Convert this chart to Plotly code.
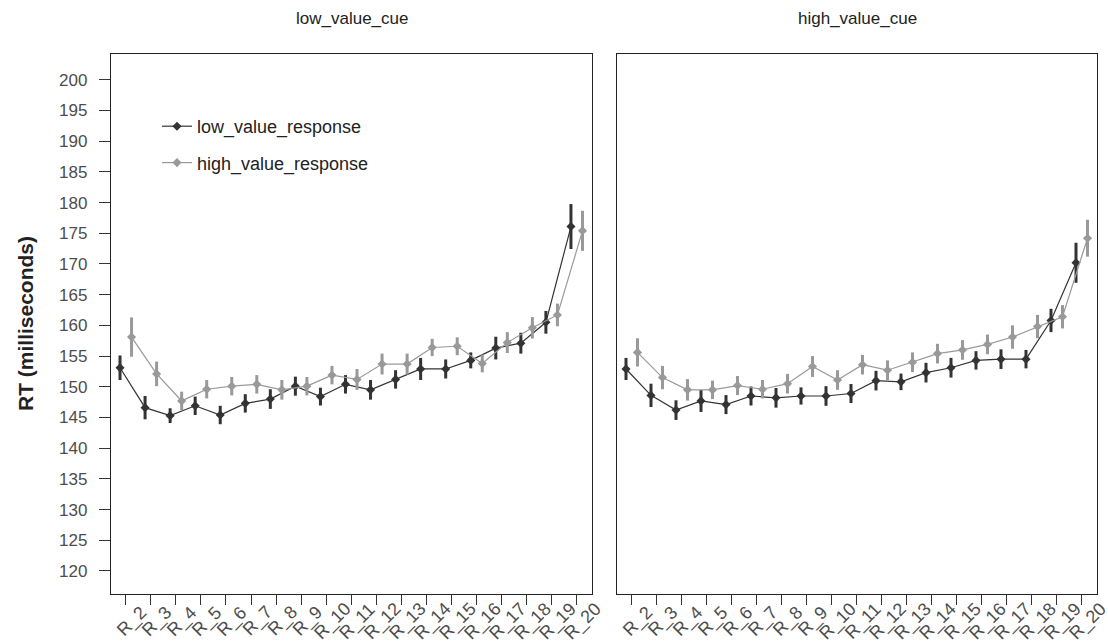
import plotly.graph_objects as go

# ---- data ----
categories = ["R_%d" % n for n in range(2, 21)]
panels = ["low_value_cue", "high_value_cue"]
series_names = ["low_value_response", "high_value_response"]

low_cue_low_resp = [153.1, 146.6, 145.3, 146.9, 145.4, 147.3, 148.0, 150.1, 148.4, 150.4,
                    149.5, 151.2, 152.9, 152.9, 154.3, 156.3, 157.1, 160.5, 176.1]
low_cue_low_err = [2.0, 1.9, 1.2, 1.5, 1.5, 1.5, 1.6, 1.55, 1.45, 1.5,
                   1.6, 1.5, 1.8, 1.55, 1.3, 1.85, 1.7, 1.85, 3.66]
low_cue_high_resp = [158.1, 152.1, 147.7, 149.6, 150.1, 150.4, 149.5, 150.1, 151.9, 151.2,
                     153.7, 153.7, 156.4, 156.6, 153.8, 157.2, 159.6, 161.7, 175.4]
low_cue_high_err = [3.2, 2.0, 1.5, 1.5, 1.5, 1.5, 1.6, 1.5, 1.5, 1.7,
                    1.7, 1.7, 1.4, 1.45, 1.45, 1.7, 1.75, 1.85, 3.26]

high_cue_low_resp = [152.9, 148.6, 146.2, 147.7, 147.1, 148.5, 148.2, 148.5, 148.5, 148.9,
                     151.0, 150.8, 152.3, 153.1, 154.3, 154.5, 154.5, 160.8, 170.2]
high_cue_low_err = [1.8, 1.9, 1.6, 1.8, 1.55, 1.55, 1.6, 1.4, 1.6, 1.55,
                    1.6, 1.35, 1.6, 1.6, 1.5, 1.6, 1.5, 1.9, 3.26]
high_cue_high_resp = [155.6, 151.5, 149.5, 149.5, 150.2, 149.6, 150.5, 153.3, 151.1, 153.6,
                      152.7, 154.0, 155.4, 156.0, 156.9, 158.1, 159.8, 161.4, 174.2]
high_cue_high_err = [2.3, 1.9, 1.75, 1.5, 1.55, 1.5, 1.6, 1.7, 1.6, 1.6,
                     1.6, 1.6, 1.6, 1.6, 1.6, 1.9, 1.9, 1.9, 3.0]

y_ticks = list(range(120, 201, 5))

# ---- styling ----
W, H = 1108, 643
DODGE = 0.23
colors = {"low_value_response": "#333333", "high_value_response": "#999999"}
FONT = "Liberation Sans, Arial, sans-serif"
TXT = "#4d4d4d"

data = {
    ("low_value_cue", "low_value_response"): (low_cue_low_resp, low_cue_low_err),
    ("low_value_cue", "high_value_response"): (low_cue_high_resp, low_cue_high_err),
    ("high_value_cue", "low_value_response"): (high_cue_low_resp, high_cue_low_err),
    ("high_value_cue", "high_value_response"): (high_cue_high_resp, high_cue_high_err),
}

fig = go.Figure()
idx = list(range(1, len(categories) + 1))
for p, panel in enumerate(panels):
    xa = "x" if p == 0 else "x2"
    ya = "y" if p == 0 else "y2"
    for s, name in enumerate(series_names):
        vals, errs = data[(panel, name)]
        off = -DODGE if s == 0 else DODGE
        fig.add_trace(go.Scatter(
            x=[i + off for i in idx], y=vals, name=name,
            mode="lines+markers", xaxis=xa, yaxis=ya,
            line=dict(color=colors[name], width=1.2),
            marker=dict(color=colors[name], symbol="diamond", size=7),
            error_y=dict(type="data", array=errs, visible=True,
                         color=colors[name], thickness=3, width=0),
            showlegend=(p == 0), legendgroup=name,
        ))

left_dom = [111 / W, 592 / W]
right_dom = [617 / W, 1097 / W]
y_dom = [(H - 594) / H, (H - 54) / H]
xrange_ = [0.41, 19.61]
yrange_ = [116.25, 204.2]

xaxis_common = dict(range=xrange_, tickmode="array", tickvals=idx, ticktext=[""] * len(idx),
                    showticklabels=False, ticks="outside", ticklen=10, tickcolor="#333",
                    showline=True, mirror=True, linecolor="#222", linewidth=1.3,
                    showgrid=False, zeroline=False)
fig.update_layout(
    width=W, height=H, margin=dict(l=0, r=0, t=0, b=0),
    paper_bgcolor="white", plot_bgcolor="white",
    font=dict(family=FONT, color=TXT),
    xaxis=dict(domain=left_dom, anchor="y", **xaxis_common),
    xaxis2=dict(domain=right_dom, anchor="y2", **xaxis_common),
    yaxis=dict(domain=y_dom, range=yrange_, tickmode="array", tickvals=y_ticks,
               ticks="outside", ticklen=11, tickcolor="#333", ticklabelstandoff=8,
               tickfont=dict(size=17, color=TXT, family=FONT),
               showline=True, mirror=True, linecolor="#222", linewidth=1.3,
               showgrid=False, zeroline=False, anchor="x"),
    yaxis2=dict(domain=y_dom, range=yrange_, matches="y", showticklabels=False, ticks="",
                showline=True, mirror=True, linecolor="#222", linewidth=1.3,
                showgrid=False, zeroline=False, anchor="x2"),
    legend=dict(x=157 / W, y=1 - 108 / H, xanchor="left", yanchor="top",
                bgcolor="rgba(0,0,0,0)", font=dict(size=18, color="#222", family=FONT),
                tracegroupgap=10),
    showlegend=True,
)

annotations = []
# panel titles
for p, panel in enumerate(panels):
    dom = left_dom if p == 0 else right_dom
    annotations.append(dict(text=panel, x=(dom[0] + dom[1]) / 2, y=1 - 19 / H,
                            xref="paper", yref="paper", showarrow=False,
                            xanchor="center", yanchor="middle",
                            font=dict(size=17, color="#222", family=FONT)))
# y-axis title
annotations.append(dict(text="<b>RT (milliseconds)</b>", x=25 / W, y=1 - 324 / H,
                        xref="paper", yref="paper", showarrow=False, textangle=-90,
                        xanchor="center", yanchor="middle",
                        font=dict(size=21, color="#222", family=FONT)))
# rotated x tick labels
for xr in ["x", "x2"]:
    for i, lab in zip(idx, categories):
        annotations.append(dict(text=lab, x=i, y=1 - 621 / H, xref=xr, yref="paper",
                                showarrow=False, textangle=-45, xshift=6,
                                xanchor="center", yanchor="middle",
                                font=dict(size=18, color=TXT, family=FONT)))
fig.update_layout(annotations=annotations)

fig.write_html("out.html")
